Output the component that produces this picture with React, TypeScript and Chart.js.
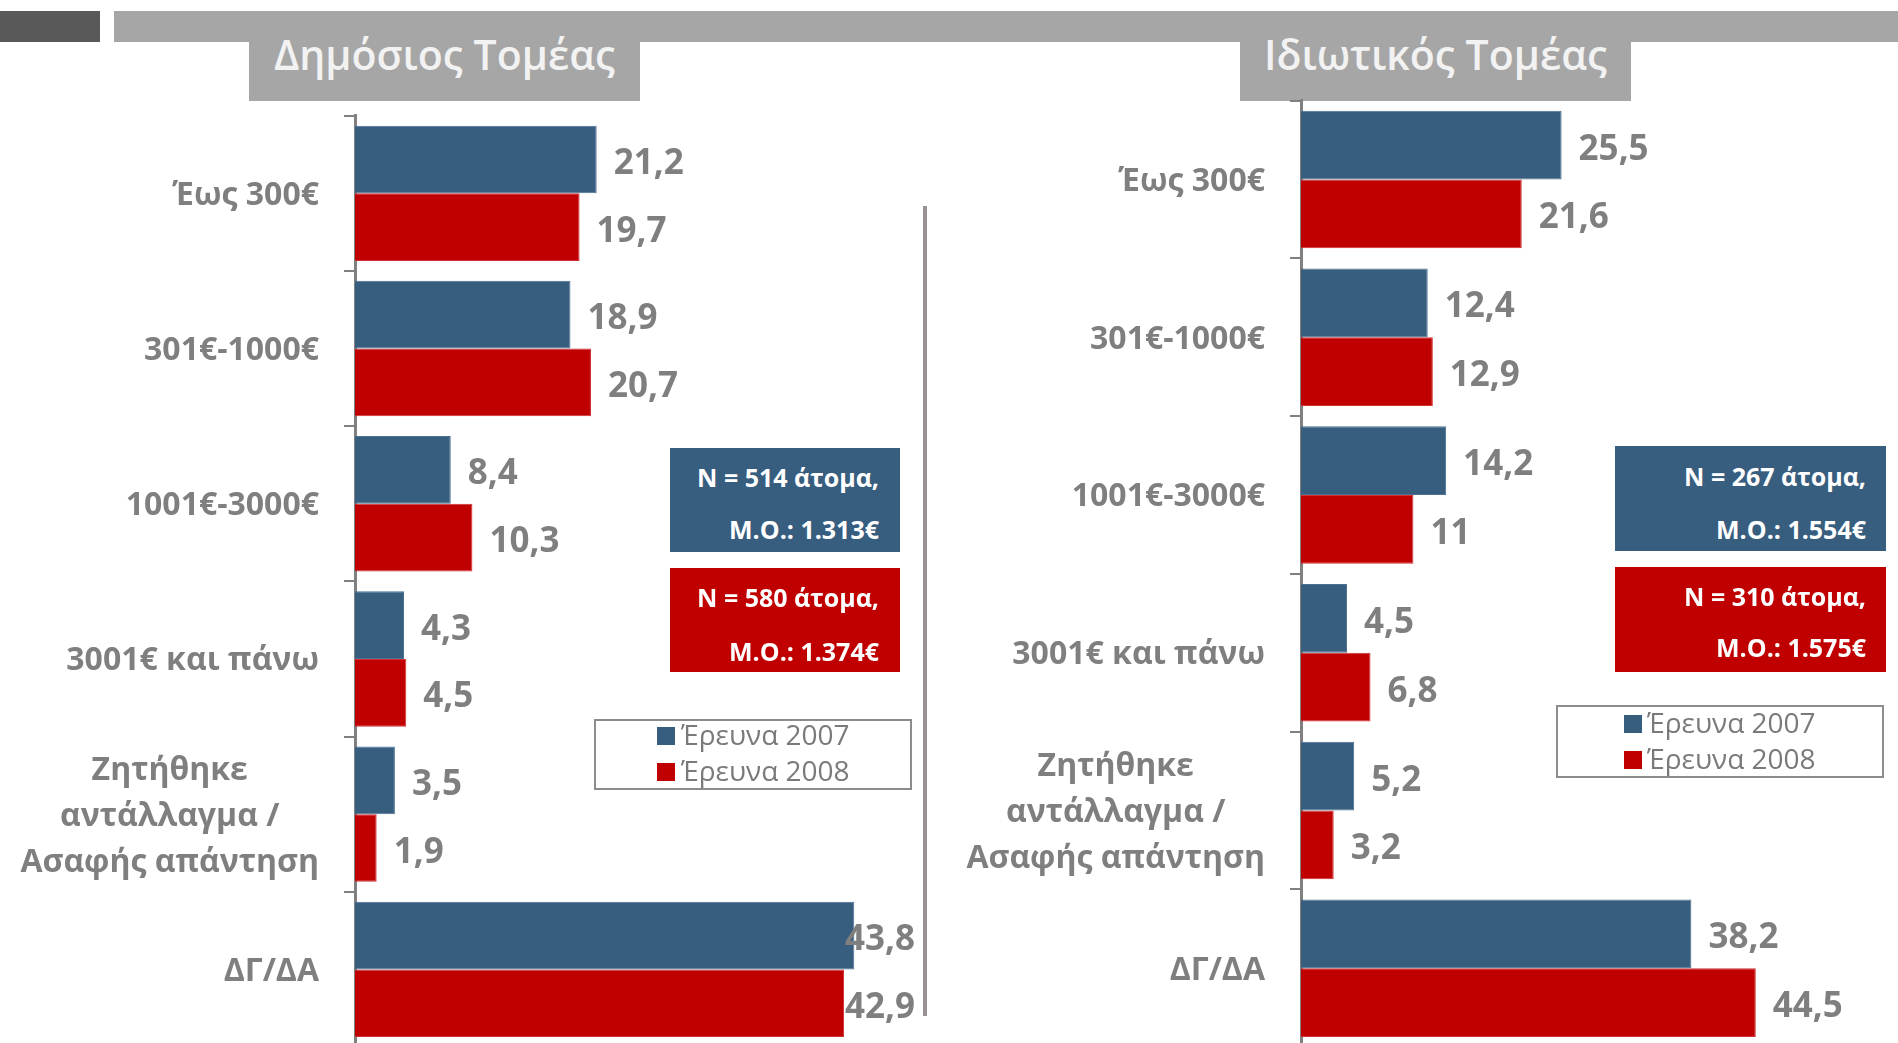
import React, { useEffect, useRef } from 'react';
import { Chart, registerables } from 'chart.js';

Chart.register(...registerables);

// ---------- data ----------
const categories: (string | string[])[] = [
  'Έως 300€',
  '301€-1000€',
  '1001€-3000€',
  '3001€ και πάνω',
  ['Ζητήθηκε', 'αντάλλαγμα /', 'Ασαφής απάντηση'],
  'ΔΓ/ΔΑ',
];
const seriesLabels = ['Έρευνα 2007', 'Έρευνα 2008'];

const publicTitle = 'Δημόσιος Τομέας';
const public2007 = [21.2, 18.9, 8.4, 4.3, 3.5, 43.8];
const public2008 = [19.7, 20.7, 10.3, 4.5, 1.9, 42.9];
const publicNote2007 = ['N = 514 άτομα,', 'Μ.Ο.: 1.313€'];
const publicNote2008 = ['N = 580 άτομα,', 'Μ.Ο.: 1.374€'];

const privateTitle = 'Ιδιωτικός Τομέας';
const private2007 = [25.5, 12.4, 14.2, 4.5, 5.2, 38.2];
const private2008 = [21.6, 12.9, 11, 6.8, 3.2, 44.5];
const privateNote2007 = ['N = 267 άτομα,', 'Μ.Ο.: 1.554€'];
const privateNote2008 = ['N = 310 άτομα,', 'Μ.Ο.: 1.575€'];

const axisMin = 0;
const axisMax = 50;

// ---------- styles ----------
const FONT = "'Open Sans', 'Noto Sans', 'DejaVu Sans', sans-serif";
const BLUE = '#375D7F';
const RED = '#C00000';
const GREY_TEXT = '#7F7F7F';
const AXIS = '#808080';
const BANNER = '#A6A6A6';

const fmt = (v: number) => String(v).replace('.', ',');

const valueLabelPlugin = {
  id: 'valueLabels',
  afterDatasetsDraw(chart: any, _args: any, opts: any) {
    const ctx = chart.ctx;
    const area = chart.chartArea;
    ctx.save();
    ctx.font = `bold 35px ${FONT}`;
    ctx.fillStyle = GREY_TEXT;
    ctx.textBaseline = 'alphabetic';
    ctx.textAlign = 'left';
    chart.data.datasets.forEach((ds: any, di: number) => {
      const meta = chart.getDatasetMeta(di);
      meta.data.forEach((bar: any, i: number) => {
        const txt = fmt(ds.data[i]);
        const w = ctx.measureText(txt).width;
        let x = bar.x + 17;
        if (opts && opts.clamp) {
          const limit = area.right - 10;
          if (x + w > limit) x = limit - w;
        }
        ctx.fillText(txt, x, bar.y + 14.5);
      });
    });
    ctx.restore();
  },
};

const categoryLabelPlugin = {
  id: 'categoryLabels',
  afterDraw(chart: any) {
    const scale = chart.scales.y;
    const ctx = chart.ctx;
    ctx.save();
    ctx.font = `bold 32px ${FONT}`;
    ctx.fillStyle = GREY_TEXT;
    ctx.textAlign = 'center';
    ctx.textBaseline = 'alphabetic';
    const right = scale.right - 36;
    const lh = 46;
    chart.data.labels.forEach((lab: any, i: number) => {
      const lines: string[] = Array.isArray(lab) ? lab : [lab];
      const widest = Math.max(...lines.map((l) => ctx.measureText(l).width));
      const cx = right - widest / 2;
      const cy = scale.getPixelForValue(i);
      lines.forEach((l, k) => {
        ctx.fillText(l, cx, cy + (k - (lines.length - 1) / 2) * lh + 11.5);
      });
    });
    ctx.restore();
  },
};

function makeConfig(v07: number[], v08: number[], axisWidth: number, padTop: number, padRight: number, clamp: boolean): any {
  return {
    type: 'bar',
    data: {
      labels: categories,
      datasets: [
        {
          label: seriesLabels[0],
          data: v07,
          backgroundColor: BLUE,
          borderColor: '#4A7093',
          borderWidth: 1,
          categoryPercentage: 0.872,
          barPercentage: 1,
        },
        {
          label: seriesLabels[1],
          data: v08,
          backgroundColor: RED,
          borderColor: '#D03030',
          borderWidth: 1,
          categoryPercentage: 0.872,
          barPercentage: 1,
        },
      ],
    },
    options: {
      indexAxis: 'y',
      responsive: false,
      animation: false,
      devicePixelRatio: 1,
      layout: { padding: { top: padTop, bottom: 13, left: 0, right: padRight } },
      plugins: {
        legend: { display: false },
        tooltip: { enabled: false },
        valueLabels: { clamp },
      },
      scales: {
        x: { display: false, min: axisMin, max: axisMax },
        y: {
          offset: true,
          grid: {
            offset: true,
            drawOnChartArea: false,
            drawTicks: true,
            tickLength: 11,
            color: AXIS,
            lineWidth: 2,
          },
          border: { display: true, color: AXIS, width: 3 },
          ticks: { display: false },
          afterFit: (s: any) => {
            s.width = axisWidth;
          },
        },
      },
    },
    plugins: [valueLabelPlugin, categoryLabelPlugin],
  };
}

type TxtProps = { x: number; base: number; size: number; weight?: number; color: string; align?: 'left' | 'right' | 'center'; children: any };
function Txt({ x, base, size, weight = 400, color, align = 'left', children }: TxtProps) {
  const tx = align === 'right' ? 'translateX(-100%)' : align === 'center' ? 'translateX(-50%)' : 'none';
  return (
    <div
      style={{
        position: 'absolute',
        left: x,
        top: base - 0.888 * size,
        fontFamily: FONT,
        fontSize: size,
        fontWeight: weight,
        lineHeight: 1,
        color,
        whiteSpace: 'nowrap',
        transform: tx,
      }}
    >
      {children}
    </div>
  );
}

function Box({ l, t, w, h, bg, border }: { l: number; t: number; w: number; h: number; bg?: string; border?: string }) {
  return (
    <div
      style={{
        position: 'absolute',
        left: l,
        top: t,
        width: w,
        height: h,
        background: bg || 'transparent',
        border: border || 'none',
        boxSizing: 'border-box',
      }}
    />
  );
}

export default function App() {
  const leftRef = useRef<HTMLCanvasElement | null>(null);
  const rightRef = useRef<HTMLCanvasElement | null>(null);

  useEffect(() => {
    const c1 = new Chart(leftRef.current as HTMLCanvasElement, makeConfig(public2007, public2008, 355, 115.7, 25, true));
    const c2 = new Chart(rightRef.current as HTMLCanvasElement, makeConfig(private2007, private2008, 351, 100.7, 86, false));
    return () => {
      c1.destroy();
      c2.destroy();
    };
  }, []);

  return (
    <div style={{ position: 'fixed', left: 0, top: 0, width: 1898, height: 1043, overflow: 'hidden', background: '#FFFFFF' }}>
      {/* banner */}
      <Box l={0} t={11} w={100} h={31} bg="#595959" />
      <Box l={114} t={11} w={1784} h={31} bg={BANNER} />
      <Box l={249} t={42} w={391} h={59} bg={BANNER} />
      <Box l={1240} t={42} w={391} h={59} bg={BANNER} />
      <Txt x={444.5} base={70} size={41} weight={600} color="#F2F2F2" align="center">{publicTitle}</Txt>
      <Txt x={1435.5} base={70} size={41} weight={600} color="#F2F2F2" align="center">{privateTitle}</Txt>

      {/* charts */}
      <canvas ref={leftRef} width={950} height={1060} style={{ position: 'absolute', left: 0, top: 0 }} />
      <canvas ref={rightRef} width={948} height={1060} style={{ position: 'absolute', left: 950, top: 0 }} />

      {/* separator */}
      <Box l={923} t={206} w={4} h={810} bg="#9A9292" />

      {/* left notes */}
      <Box l={670} t={448} w={230} h={104} bg={BLUE} />
      <Txt x={879} base={487} size={25} weight={700} color="#FFFFFF" align="right">{publicNote2007[0]}</Txt>
      <Txt x={879} base={539} size={25} weight={700} color="#FFFFFF" align="right">{publicNote2007[1]}</Txt>
      <Box l={670} t={568} w={230} h={104} bg={RED} />
      <Txt x={879} base={607} size={25} weight={700} color="#FFFFFF" align="right">{publicNote2008[0]}</Txt>
      <Txt x={879} base={661} size={25} weight={700} color="#FFFFFF" align="right">{publicNote2008[1]}</Txt>

      {/* left legend */}
      <Box l={594} t={719} w={318} h={71} border={`2px solid #8C8C8C`} />
      <Box l={657} t={727} w={18} h={18} bg={BLUE} />
      <Txt x={681} base={745} size={28} color="#7A7A7A">{seriesLabels[0]}</Txt>
      <Box l={657} t={763} w={18} h={18} bg={RED} />
      <Txt x={681} base={781} size={28} color="#7A7A7A">{seriesLabels[1]}</Txt>

      {/* right notes */}
      <Box l={1615} t={446} w={271} h={105} bg={BLUE} />
      <Txt x={1866} base={486} size={25} weight={700} color="#FFFFFF" align="right">{privateNote2007[0]}</Txt>
      <Txt x={1866} base={539} size={25} weight={700} color="#FFFFFF" align="right">{privateNote2007[1]}</Txt>
      <Box l={1615} t={567} w={271} h={105} bg={RED} />
      <Txt x={1866} base={606} size={25} weight={700} color="#FFFFFF" align="right">{privateNote2008[0]}</Txt>
      <Txt x={1866} base={657} size={25} weight={700} color="#FFFFFF" align="right">{privateNote2008[1]}</Txt>

      {/* right legend */}
      <Box l={1556} t={705} w={328} h={73} border={`2px solid #8C8C8C`} />
      <Box l={1624} t={715} w={18} h={18} bg={BLUE} />
      <Txt x={1647} base={733} size={28} color="#7A7A7A">{seriesLabels[0]}</Txt>
      <Box l={1624} t={751} w={18} h={18} bg={RED} />
      <Txt x={1647} base={769} size={28} color="#7A7A7A">{seriesLabels[1]}</Txt>
    </div>
  );
}
